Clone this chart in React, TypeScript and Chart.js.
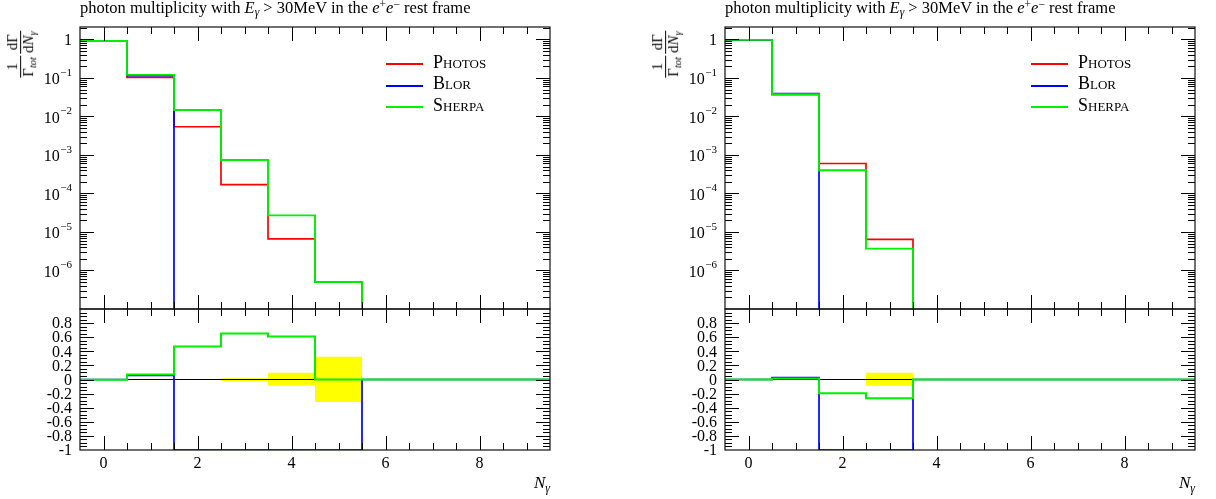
import React, { useEffect, useRef } from 'react';
import { Chart, registerables } from 'chart.js';

Chart.register(...registerables);

// ---------- data ----------
const nGamma = [0, 1, 2, 3, 4, 5, 6, 7, 8, 9];
const binWidth = 1;

// left panel
const photosLeft = [0.92, 0.103, 5.4e-3, 1.7e-4, 6.6e-6, 5.0e-7, 0, 0, 0, 0];
const blorLeft = [0.92, 0.115, 0, 0, 0, 0, 0, 0, 0, 0];
const sherpaLeft = [0.91, 0.12, 1.47e-2, 7.4e-4, 2.7e-5, 5.0e-7, 0, 0, 0, 0];
const refRatioLeft = [0, 0, 0, 0, 0, 0, 0, 0, 0, 0];
const blorRatioLeft = [0, 0.057, -1, -1, -1, -1, 0, 0, 0, 0];
const sherpaRatioLeft = [-0.005, 0.071, 0.469, 0.654, 0.611, 0, 0, 0, 0, 0];
const errUpLeft = [0.003, 0.004, 0.005, 0.019, 0.094, 0.322, 0, 0, 0, 0];
const errDownLeft = [0.003, 0.004, 0.005, 0.02, 0.09, 0.318, 0, 0, 0, 0];

// right panel
const photosRight = [0.97, 0.037, 6.0e-4, 6.4e-6, 0, 0, 0, 0, 0, 0];
const blorRight = [0.97, 0.039, 0, 0, 0, 0, 0, 0, 0, 0];
const sherpaRight = [0.97, 0.038, 4.0e-4, 3.7e-6, 0, 0, 0, 0, 0, 0];
const refRatioRight = [0, 0, 0, 0, 0, 0, 0, 0, 0, 0];
const blorRatioRight = [0, 0.028, -1, -1, 0, 0, 0, 0, 0, 0];
const sherpaRatioRight = [0, 0.014, -0.195, -0.265, 0, 0, 0, 0, 0, 0];
const errUpRight = [0.002, 0.003, 0.008, 0.095, 0, 0, 0, 0, 0, 0];
const errDownRight = [0.002, 0.003, 0.008, 0.09, 0, 0, 0, 0, 0, 0];

// axes
const xRange = [-0.5, 9.5];
const logRange = [1e-7, 2.1];
const ratioRange = [-1, 1];
const xMajorTicks = [0, 2, 4, 6, 8];
const xTickLabels = ['0', '2', '4', '6', '8'];
const xMinorStep = 0.5;
const logDecades = [0, -1, -2, -3, -4, -5, -6];
const ratioTickValues = [0.8, 0.6, 0.4, 0.2, 0, -0.2, -0.4, -0.6, -0.8, -1];
const ratioTickLabels = ['0.8', '0.6', '0.4', '0.2', '0', '-0.2', '-0.4', '-0.6', '-0.8', '-1'];
const ratioMinorStep = 0.05;
const ratioMajorStep = 0.2;
const legendLabels = ['Photos', 'Blor', 'Sherpa'];

const COLORS = { photos: '#ff0000', blor: '#0000ff', sherpa: '#00f000', band: '#ffff00' };
const FONT = '"Liberation Serif", "DejaVu Serif", serif';
const LOG_FLOOR = 1e-12;

function histPoints(vals: number[], floor?: number) {
  const fix = (v: number) => (floor !== undefined && v <= 0 ? floor : v);
  const pts = vals.map((v, i) => ({ x: nGamma[i] - binWidth / 2, y: fix(v) }));
  pts.push({ x: nGamma[nGamma.length - 1] + binWidth / 2, y: fix(vals[vals.length - 1]) });
  return pts;
}

function lineDs(label: string, pts: any[], color: string, axis: string, order: number, width = 1.7) {
  return {
    label,
    data: pts,
    borderColor: color,
    backgroundColor: color,
    borderWidth: width,
    pointRadius: 0,
    pointHoverRadius: 0,
    stepped: true,
    fill: false,
    tension: 0,
    xAxisID: 'x',
    yAxisID: axis,
    order,
  };
}

const panelClip = {
  id: 'panelClip',
  beforeDatasetDraw(chart: any, args: any) {
    const { xScale, yScale } = args.meta;
    const ctx = chart.ctx;
    ctx.save();
    ctx.beginPath();
    ctx.rect(xScale.left, yScale.top, xScale.right - xScale.left, yScale.bottom - yScale.top);
    ctx.clip();
  },
  afterDatasetDraw(chart: any) {
    chart.ctx.restore();
  },
};

const hepAxes = {
  id: 'hepAxes',
  afterDraw(chart: any) {
    const ctx: CanvasRenderingContext2D = chart.ctx;
    const xs = chart.scales.x;
    const ym = chart.scales.y;
    const yr = chart.scales.yr;
    const L = xs.left;
    const R = xs.right;
    const MAJ = 14;
    const MIN = 7;
    const crisp = (v: number) => Math.round(v) + 0.5;
    ctx.save();
    ctx.strokeStyle = '#000';
    ctx.lineWidth = 1;
    ctx.beginPath();
    const hTick = (py: number, len: number) => {
      const y = crisp(py);
      ctx.moveTo(L, y);
      ctx.lineTo(L + len, y);
      ctx.moveTo(R, y);
      ctx.lineTo(R - len, y);
    };
    const vTick = (px: number, len: number, top: number, bottom: number) => {
      const x = crisp(px);
      ctx.moveTo(x, bottom);
      ctx.lineTo(x, bottom - len);
      ctx.moveTo(x, top);
      ctx.lineTo(x, top + len);
    };
    const nSteps = Math.round((xs.max - xs.min) / xMinorStep);
    for (let k = 1; k < nSteps; k++) {
      const v = xs.min + k * xMinorStep;
      const len = xMajorTicks.some((t) => Math.abs(t - v) < 1e-9) ? MAJ : MIN;
      const px = xs.getPixelForValue(v);
      vTick(px, len, ym.top, ym.bottom);
      vTick(px, len, yr.top, yr.bottom);
    }
    const eLo = Math.floor(Math.log10(ym.min));
    const eHi = Math.ceil(Math.log10(ym.max));
    for (let e = eLo; e <= eHi; e++) {
      for (let m = 1; m <= 9; m++) {
        const v = m * Math.pow(10, e);
        if (v <= ym.min * 1.001 || v >= ym.max * 0.999) continue;
        hTick(ym.getPixelForValue(v), m === 1 ? MAJ : MIN);
      }
    }
    const rSteps = Math.round((yr.max - yr.min) / ratioMinorStep);
    for (let k = 1; k < rSteps; k++) {
      const v = yr.min + k * ratioMinorStep;
      const q = v / ratioMajorStep;
      const major = Math.abs(q - Math.round(q)) < 1e-6;
      hTick(yr.getPixelForValue(v), major ? MAJ : MIN);
    }
    ctx.stroke();
    // frames
    ctx.strokeStyle = '#111';
    ctx.lineWidth = 1.2;
    for (const s of [ym, yr]) ctx.strokeRect(L, s.top, R - L, s.bottom - s.top);
    // labels
    ctx.fillStyle = '#000';
    ctx.font = `16px ${FONT}`;
    ctx.textAlign = 'center';
    ctx.textBaseline = 'middle';
    xMajorTicks.forEach((v, i) => ctx.fillText(xTickLabels[i], xs.getPixelForValue(v), yr.bottom + 14));
    ctx.textAlign = 'right';
    ratioTickValues.forEach((v, i) => ctx.fillText(ratioTickLabels[i], L - 8, yr.getPixelForValue(v) + 1));
    logDecades.forEach((e) => {
      const py = ym.getPixelForValue(Math.pow(10, e));
      if (e === 0) {
        ctx.font = `16px ${FONT}`;
        ctx.fillText('1', L - 8, py + 1);
        return;
      }
      const exp = '\u2212' + Math.abs(e);
      ctx.font = `11px ${FONT}`;
      const w = ctx.measureText(exp).width;
      ctx.fillText(exp, L - 8, py - 5);
      ctx.font = `16px ${FONT}`;
      ctx.fillText('10', L - 8 - w - 0.5, py + 2);
    });
    ctx.restore();
  },
};

type PanelData = {
  photos: number[];
  blor: number[];
  sherpa: number[];
  refRatio: number[];
  blorRatio: number[];
  sherpaRatio: number[];
  errUp: number[];
  errDown: number[];
};

const CANVAS_W = 571;
const CANVAS_H = 499;
const PAD = { left: 80, right: 21, top: 27, bottom: 49 };

function Sub({ children, italic }: { children: any; italic?: boolean }) {
  return (
    <span style={{ fontSize: '0.7em', verticalAlign: '-0.3em', lineHeight: 0, fontStyle: italic ? 'italic' : 'normal' }}>
      {children}
    </span>
  );
}
function Sup({ children }: { children: any }) {
  return <span style={{ fontSize: '0.7em', verticalAlign: '0.45em', lineHeight: 0 }}>{children}</span>;
}
function Frac({ num, den }: { num: any; den: any }) {
  return (
    <span style={{ display: 'inline-flex', flexDirection: 'column', alignItems: 'center', verticalAlign: 'middle', margin: '0 1px' }}>
      <span style={{ padding: '0 1px', lineHeight: 1.0 }}>{num}</span>
      <span style={{ borderTop: '1.5px solid #000', padding: '0 1px', lineHeight: 1.05 }}>{den}</span>
    </span>
  );
}

function Panel({ ox, data }: { ox: number; data: PanelData }) {
  const ref = useRef<HTMLCanvasElement | null>(null);
  useEffect(() => {
    if (!ref.current) return;
    const chart = new Chart(ref.current, {
      type: 'line',
      data: {
        datasets: [
          lineDs('Photos', histPoints(data.photos, LOG_FLOOR), COLORS.photos, 'y', 2),
          lineDs('Blor', histPoints(data.blor, LOG_FLOOR), COLORS.blor, 'y', 1),
          lineDs('Sherpa', histPoints(data.sherpa, LOG_FLOOR), COLORS.sherpa, 'y', 0, 1.9),
          {
            ...lineDs('Photos uncertainty up', histPoints(data.errUp), 'rgba(0,0,0,0)', 'yr', 6, 0),
            fill: '+1',
            backgroundColor: COLORS.band,
          },
          lineDs('Photos uncertainty down', histPoints(data.errDown.map((v) => -v)), 'rgba(0,0,0,0)', 'yr', 7, 0),
          lineDs('Photos ratio', histPoints(data.refRatio), '#000', 'yr', 5, 1),
          lineDs('Blor ratio', histPoints(data.blorRatio), COLORS.blor, 'yr', 1),
          lineDs('Sherpa ratio', histPoints(data.sherpaRatio), COLORS.sherpa, 'yr', 0, 2),
        ] as any,
      },
      options: {
        responsive: false,
        animation: false,
        events: [],
        layout: { padding: PAD },
        plugins: {
          legend: { display: false },
          title: { display: false },
          tooltip: { enabled: false },
        },
        scales: {
          x: { type: 'linear', min: xRange[0], max: xRange[1], display: false, bounds: 'data' },
          yr: {
            type: 'linear',
            min: ratioRange[0],
            max: ratioRange[1],
            display: false,
            position: 'left',
            stack: 'panel',
            stackWeight: 1,
          },
          y: {
            type: 'logarithmic',
            min: logRange[0],
            max: logRange[1],
            display: false,
            position: 'left',
            stack: 'panel',
            stackWeight: 2,
          },
        },
      } as any,
      plugins: [panelClip, hepAxes],
    });
    return () => chart.destroy();
  }, [data]);

  const legendColors = [COLORS.photos, COLORS.blor, COLORS.sherpa];
  const legendY = [64.3, 85.7, 107.3];

  return (
    <>
      <canvas
        ref={ref}
        width={CANVAS_W}
        height={CANVAS_H}
        style={{ position: 'absolute', left: ox, top: 0, width: CANVAS_W, height: CANVAS_H, display: 'block' }}
      />
      <div
        style={{
          position: 'absolute',
          left: ox + 80,
          top: 0,
          font: `16.5px ${FONT}`,
          lineHeight: '16px',
          whiteSpace: 'nowrap',
          color: '#000',
        }}
      >
        photon multiplicity with <i>E</i>
        <Sub italic>γ</Sub> &gt; 30MeV in the <i>e</i>
        <Sup>+</Sup>
        <i>e</i>
        <Sup>−</Sup> rest frame
      </div>
      <div
        style={{
          position: 'absolute',
          left: ox + 21,
          top: 54,
          transform: 'translate(-50%, -50%) rotate(-90deg)',
          whiteSpace: 'nowrap',
          font: `15px ${FONT}`,
          color: '#000',
          display: 'flex',
          alignItems: 'center',
        }}
      >
        <Frac num="1" den={<span>Γ<Sub italic>tot</Sub></span>} />
        <Frac num="dΓ" den={<span>d<i>N</i><Sub italic>γ</Sub></span>} />
      </div>
      {legendLabels.map((lab, i) => (
        <div
          key={lab}
          style={{ position: 'absolute', left: ox + 386, top: legendY[i] - 10, height: 20, display: 'flex', alignItems: 'center' }}
        >
          <span style={{ display: 'inline-block', width: 37, height: 2, background: legendColors[i], marginRight: 10 }} />
          <span style={{ font: `18px ${FONT}`, fontVariant: 'small-caps', position: 'relative', top: -2, whiteSpace: 'nowrap' }}>{lab}</span>
        </div>
      ))}
      <div
        style={{
          position: 'absolute',
          left: ox + 450,
          width: 100,
          top: 473,
          textAlign: 'right',
          font: `17px ${FONT}`,
          whiteSpace: 'nowrap',
        }}
      >
        <i>N</i>
        <Sub italic>γ</Sub>
      </div>
    </>
  );
}

const leftData: PanelData = {
  photos: photosLeft,
  blor: blorLeft,
  sherpa: sherpaLeft,
  refRatio: refRatioLeft,
  blorRatio: blorRatioLeft,
  sherpaRatio: sherpaRatioLeft,
  errUp: errUpLeft,
  errDown: errDownLeft,
};
const rightData: PanelData = {
  photos: photosRight,
  blor: blorRight,
  sherpa: sherpaRight,
  refRatio: refRatioRight,
  blorRatio: blorRatioRight,
  sherpaRatio: sherpaRatioRight,
  errUp: errUpRight,
  errDown: errDownRight,
};

export default function App() {
  return (
    <div
      style={{
        position: 'fixed',
        left: 0,
        top: 0,
        width: 1216,
        height: 499,
        overflow: 'hidden',
        background: '#fff',
        fontFamily: FONT,
      }}
    >
      <Panel ox={0} data={leftData} />
      <Panel ox={645} data={rightData} />
    </div>
  );
}
